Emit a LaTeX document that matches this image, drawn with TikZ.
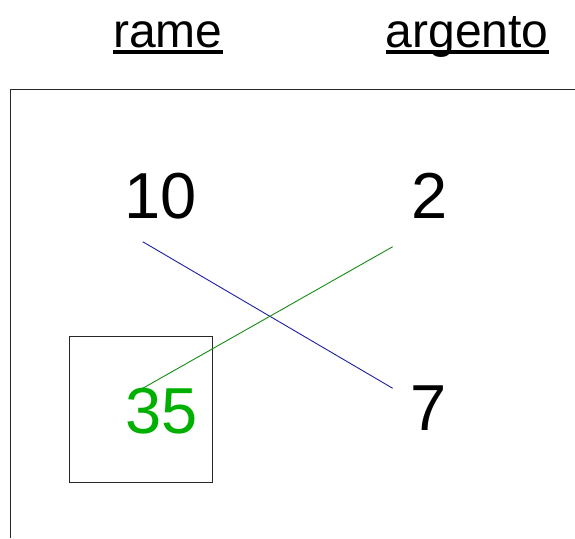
\documentclass[tikz,border=0pt]{standalone}
\usepackage{fontspec}
\setmainfont{Liberation Sans}
\definecolor{lineblue}{RGB}{30,30,160}
\definecolor{linegreen}{RGB}{20,140,20}
\definecolor{numgreen}{RGB}{0,176,0}
\definecolor{framegray}{RGB}{40,40,40}
\begin{document}
\begin{tikzpicture}[x=1pt,y=-1pt,
  header/.style={anchor=base west,inner sep=0pt,font=\fontsize{48}{58}\selectfont},
  num/.style={anchor=base west,inner sep=0pt,font=\fontsize{65}{78}\selectfont},
  ul/.style={line width=3.2pt},
  frame/.style={draw=framegray,line width=1.2pt},
  link/.style={line width=0.9pt}]
\useasboundingbox (0,0) rectangle (575,538);
% headers
\node[header] (rame) at (113,47) {rame};
\node[header] (argento) at (385.5,47) {argento};
\draw[ul] ([yshift=-5pt]rame.base west) -- ([yshift=-5pt]rame.base east);
\draw[ul] ([yshift=-5pt]argento.base west) -- ([yshift=-5pt]argento.base east);
% frame (clipped by picture edge)
\coordinate (ftr) at (575,89.5);
\coordinate (ftl) at (10.5,89.5);
\coordinate (fbl) at (10.5,538);
\draw[frame] (ftr) -- (ftl) -- (fbl);
% box
\node[frame,draw,minimum width=143pt,minimum height=146pt,inner sep=0pt] (box) at (140.8,409.7) {};
% numbers
\node[num] (n10) at (124.5,218) {10};
\node[num] (n2) at (411,218) {2};
\node[num,text=numgreen] (n35) at (125,433) {35};
\node[num] (n7) at (410,430) {7};
% connector ends
\coordinate (c10) at (142.7,241.7);
\coordinate (c7) at (392.7,388.3);
\coordinate (c35) at (142.7,388.3);
\coordinate (c2) at (392.7,246.7);
\draw[link,lineblue] (c10) -- (c7);
\draw[link,linegreen] (c35) -- (c2);
\end{tikzpicture}
\end{document}
